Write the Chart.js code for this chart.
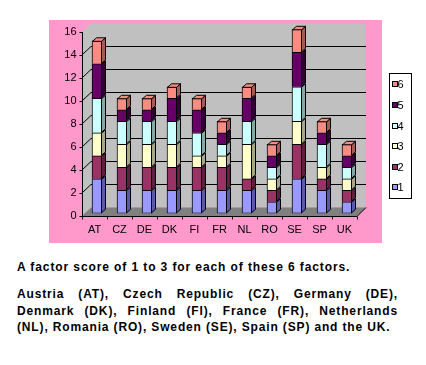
<!DOCTYPE html>
<html><head><meta charset="utf-8">
<script src="https://cdn.jsdelivr.net/npm/chart.js@4/dist/chart.umd.min.js"></script>
<style>
html,body{margin:0;padding:0;background:#fff;width:426px;height:365px;overflow:hidden;}
#wrap{position:absolute;left:0;top:0;width:426px;height:250px;}
.t{position:absolute;left:17px;font-family:"Liberation Sans",Arial,sans-serif;font-weight:bold;font-size:12px;color:#000;letter-spacing:0.9px;white-space:nowrap;line-height:14px;}
.p{position:absolute;left:17px;width:381px;font-family:"Liberation Sans",Arial,sans-serif;font-weight:bold;font-size:12px;color:#000;letter-spacing:0.85px;line-height:16.3px;}
.p div{white-space:nowrap;}
.j{text-align:justify;text-align-last:justify;}
</style></head>
<body>
<div id="wrap"><canvas id="c" width="426" height="250"></canvas></div>
<div class="t" style="top:259.5px">A factor score of 1 to 3 for each of these 6 factors.</div>
<div class="p" style="top:286.4px">
<div class="j">Austria (AT), Czech Republic (CZ), Germany (DE),</div>
<div class="j">Denmark (DK), Finland (FI), France (FR), Netherlands</div>
<div>(NL), Romania (RO), Sweden (SE), Spain (SP) and the UK.</div>
</div>
<script>
const categories = ['AT','CZ','DE','DK','FI','FR','NL','RO','SE','SP','UK'];
const seriesNames = ['1','2','3','4','5','6'];
const factor1 = [3,2,2,2,2,2,2,1,3,2,1];
const factor2 = [2,2,2,2,2,2,1,1,3,1,1];
const factor3 = [2,2,2,2,1,1,3,1,2,1,1];
const factor4 = [3,2,2,2,2,1,2,1,3,2,1];
const factor5 = [3,1,1,2,2,1,2,1,3,1,1];
const factor6 = [2,1,1,1,1,1,1,1,2,1,1];
const yMin = 0, yMax = 16, yStep = 2;

const frontColors = ['#9999FF','#993366','#FFFFCC','#CCFFFF','#660066','#F98C82'];
const sideColors  = ['#5A5AA8','#5E1F40','#A8A888','#88A8A8','#330033','#A85A55'];
const values = [factor1,factor2,factor3,factor4,factor5,factor6];
const FONT = {family:'"Liberation Sans", Arial, sans-serif', size:11};

// offsets relative to the bar plane
const FX=-2.5, FY=2.7;   // front plane
const BX=6.5, BY=-5.8;   // back wall
const DX=4, DY=-3.5;     // bar depth

const crisp = v => Math.round(v - 0.5) + 0.5;

const plugin3d = {
  id:'plugin3d',
  beforeDraw(chart){
    const ctx=chart.ctx;
    ctx.save();
    ctx.fillStyle='#FF99CC';
    ctx.fillRect(49,20,333,223);
    ctx.restore();
  },
  beforeDatasetsDraw(chart){
    const ctx=chart.ctx, a=chart.chartArea, y=chart.scales.y;
    const yp=v=>y.getPixelForValue(v);
    const L=a.left, R=a.right;
    ctx.save();
    ctx.fillStyle='#C0C0C0';
    ctx.fillRect(L+BX, yp(yMax)+BY, R-L, yp(yMin)-yp(yMax));
    ctx.beginPath();
    ctx.moveTo(L+FX, yp(yMax)+FY); ctx.lineTo(L+BX, yp(yMax)+BY);
    ctx.lineTo(L+BX, yp(yMin)+BY); ctx.lineTo(L+FX, yp(yMin)+FY);
    ctx.closePath(); ctx.fill();
    ctx.fillStyle='#808080';
    ctx.beginPath();
    ctx.moveTo(L+FX, yp(yMin)+FY); ctx.lineTo(L+BX, yp(yMin)+BY);
    ctx.lineTo(R+BX, yp(yMin)+BY); ctx.lineTo(R+FX, yp(yMin)+FY);
    ctx.closePath(); ctx.fill();
    ctx.strokeStyle='#000'; ctx.lineWidth=1;
    y.ticks.forEach(t=>{
      const v=t.value;
      if(v<=yMin||v>=yMax) return;
      const yb=crisp(yp(v)+BY);
      ctx.beginPath();
      ctx.moveTo(L+FX, yp(v)+FY); ctx.lineTo(L+BX, yp(v)+BY);
      ctx.stroke();
      ctx.beginPath();
      ctx.moveTo(L+BX, yb); ctx.lineTo(R+BX, yb);
      ctx.stroke();
    });
    const ax=crisp(L+FX), ay=crisp(yp(yMin)+FY);
    ctx.beginPath();
    ctx.moveTo(ax, yp(yMax)+FY); ctx.lineTo(ax, ay);
    ctx.lineTo(R+FX, ay);
    ctx.lineTo(R+BX, yp(yMin)+BY);
    ctx.stroke();
    y.ticks.forEach(t=>{
      const yy=crisp(yp(t.value)+FY);
      ctx.beginPath(); ctx.moveTo(ax-3, yy); ctx.lineTo(ax, yy); ctx.stroke();
    });
    const n=categories.length, cw=(R-L)/n;
    for(let k=0;k<=n;k++){
      const xx=crisp(L+FX+k*cw);
      ctx.beginPath(); ctx.moveTo(xx, ay); ctx.lineTo(xx, ay+3); ctx.stroke();
    }
    ctx.restore();
  },
  afterDatasetsDraw(chart){
    const ctx=chart.ctx;
    const n=chart.data.datasets.length;
    ctx.save();
    ctx.strokeStyle='#000'; ctx.lineWidth=1;
    chart.data.datasets.forEach((ds,i)=>{
      const meta=chart.getDatasetMeta(i);
      meta.data.forEach(bar=>{
        const p=bar.getProps(['x','y','base','width'],true);
        const l=p.x-p.width/2, r=p.x+p.width/2;
        const top=Math.min(p.y,p.base), bot=Math.max(p.y,p.base);
        if(bot-top<0.5) return;
        ctx.fillStyle=sideColors[i];
        ctx.beginPath();
        ctx.moveTo(r-0.5, top+0.5); ctx.lineTo(r-0.5+DX, top+0.5+DY);
        ctx.lineTo(r-0.5+DX, bot-0.5+DY); ctx.lineTo(r-0.5, bot-0.5);
        ctx.closePath(); ctx.fill(); ctx.stroke();
        if(i===n-1){
          ctx.fillStyle=frontColors[i];
          ctx.beginPath();
          ctx.moveTo(l+0.5, top+0.5); ctx.lineTo(l+0.5+DX, top+0.5+DY);
          ctx.lineTo(r-0.5+DX, top+0.5+DY); ctx.lineTo(r-0.5, top+0.5);
          ctx.closePath(); ctx.fill(); ctx.stroke();
        }
      });
    });
    ctx.restore();
  },
  afterDraw(chart){
    const ctx=chart.ctx;
    ctx.save();
    ctx.fillStyle='#fff';
    ctx.fillRect(389.5,73.5,22,125);
    ctx.strokeStyle='#000'; ctx.lineWidth=1;
    ctx.strokeRect(389.5,73.5,22,125);
    ctx.font='11px "Liberation Sans", Arial, sans-serif';
    ctx.textBaseline='alphabetic'; ctx.textAlign='left';
    const m=seriesNames.length;
    for(let k=0;k<m;k++){
      const i=m-1-k;
      const base=Math.round(88.3+k*20.6);
      const sy=base-6.5;
      ctx.fillStyle=frontColors[i];
      ctx.fillRect(392.5,sy,5,5);
      ctx.strokeRect(392.5,sy,5,5);
      ctx.fillStyle='#000';
      ctx.fillText(seriesNames[i],397.5,base);
    }
    ctx.restore();
  }
};

const datasets = values.map((vals,i)=>({
  label: seriesNames[i],
  data: vals,
  backgroundColor: frontColors[i],
  borderColor: '#000',
  borderWidth: {top:1,left:1,right:1,bottom: i===0?1:0},
  borderSkipped: false,
  barThickness: 10
}));

new Chart(document.getElementById('c'), {
  type:'bar',
  data:{labels:categories, datasets},
  options:{
    responsive:false, animation:false, devicePixelRatio:1,
    layout:{padding:{top:29.3,right:66.5,left:0,bottom:0}},
    plugins:{legend:{display:false}, tooltip:{enabled:false}},
    scales:{
      x:{stacked:true, grid:{display:false,drawTicks:false}, border:{display:false},
         ticks:{color:'#000',font:FONT,padding:10,labelOffset:-2.5,maxRotation:0,autoSkip:false},
         afterFit(s){ s.height=250-213.3; }},
      y:{stacked:true, min:yMin, max:yMax, grid:{display:false,drawTicks:false}, border:{display:false},
         ticks:{stepSize:yStep,color:'#000',font:FONT,padding:8,labelOffset:2.7},
         afterFit(s){ s.width=84.5; }}
    }
  },
  plugins:[plugin3d]
});
</script>
</body></html>
